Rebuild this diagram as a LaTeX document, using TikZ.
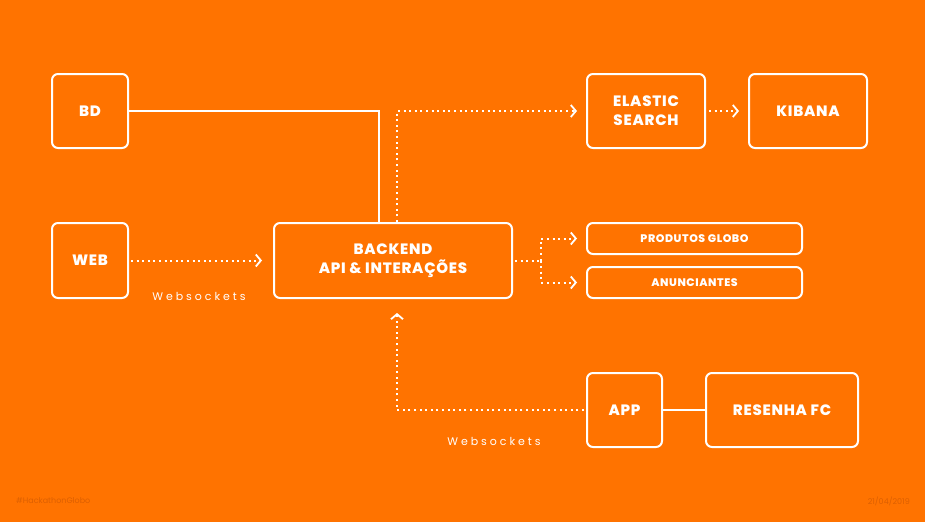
\documentclass[tikz,border=0pt]{standalone}
\usepackage{fontspec}
\setmainfont{Poppins}
\newfontfamily\wsfont[LetterSpace=27]{Poppins}
\newfontfamily\boxfont[LetterSpace=5]{Poppins ExtraBold}
\usetikzlibrary{arrows.meta}
\definecolor{bgorange}{HTML}{FF7300}
\definecolor{dimorange}{HTML}{DD6000}
\tikzset{
  box/.style={draw=white, line width=2pt, rounded corners=6pt, text=white,
    font=\boxfont\fontsize{15}{19}\selectfont, align=center, inner sep=0pt},
  smallbox/.style={box, font=\boxfont\fontsize{11}{12}\selectfont},
  solidline/.style={draw=white, line width=2pt},
  dotline/.style={draw=white, line width=2pt, dash pattern=on 2pt off 3.6pt},
  tip/.style={-{Straight Barb[length=5pt,width=12pt,line width=1.8pt]}},
  wslabel/.style={text=white, font=\wsfont\fontsize{11}{12}\selectfont},
  footer/.style={text=dimorange, font=\fontsize{8}{9}\selectfont, inner sep=0pt}
}
\begin{document}
\begin{tikzpicture}[x=1pt,y=-1pt]
\fill[bgorange] (0,0) rectangle (925,522);
\useasboundingbox (0,0) rectangle (925,522);

\node[box, minimum width=76pt, minimum height=74pt] (bd) at (90,111) {BD};
\node[box, minimum width=76pt, minimum height=75pt] (web) at (90,260.5) {WEB};
\node[box, minimum width=238pt, minimum height=75pt] (backend) at (393,260.5) {BACKEND\\API \& INTERAÇÕES};
\node[box, minimum width=118pt, minimum height=74pt] (elastic) at (646,111) {ELASTIC\\SEARCH};
\node[box, minimum width=118pt, minimum height=74pt] (kibana) at (808,111) {KIBANA};
\node[smallbox, minimum width=215pt, minimum height=31pt] (prod) at (694.5,238.5) {PRODUTOS GLOBO};
\node[smallbox, minimum width=215pt, minimum height=31pt] (anun) at (694.5,282.5) {ANUNCIANTES};
\node[box, minimum width=75pt, minimum height=74pt] (app) at (624.5,410) {APP};
\node[box, minimum width=152pt, minimum height=74pt] (resenha) at (782,410) {RESENHA FC};

\coordinate (split) at (541,260.5);

\draw[solidline] (bd.east) -| ([xshift=-14pt]backend.north);
\draw[dotline, tip] ([xshift=4pt]backend.north) |- ([xshift=-9pt]elastic.west);
\draw[dotline, tip] ([xshift=3pt]elastic.east) -- ([xshift=-9pt]kibana.west);
\draw[dotline, tip] ([xshift=2pt]web.east) -- ([xshift=-11pt]backend.west);
\draw[dotline] ([xshift=2pt]backend.east) -- (split);
\draw[dotline, tip] (split) |- ([xshift=-9pt]prod.west);
\draw[dotline, tip] (split) |- ([xshift=-9pt]anun.west);
\draw[dotline, tip] ([xshift=-2pt]app.west) -| ([xshift=4pt,yshift=-14pt]backend.south);
\draw[solidline] (app.east) -- (resenha.west);

\node[wslabel] (ws1) at (199,296) {Websockets};
\node[wslabel] (ws2) at (494,441) {Websockets};

\node[footer, anchor=west] (tag) at (16,501) {\#HackathonGlobo};
\node[footer, anchor=east] (date) at (910,501) {21/04/2019};
\end{tikzpicture}
\end{document}
